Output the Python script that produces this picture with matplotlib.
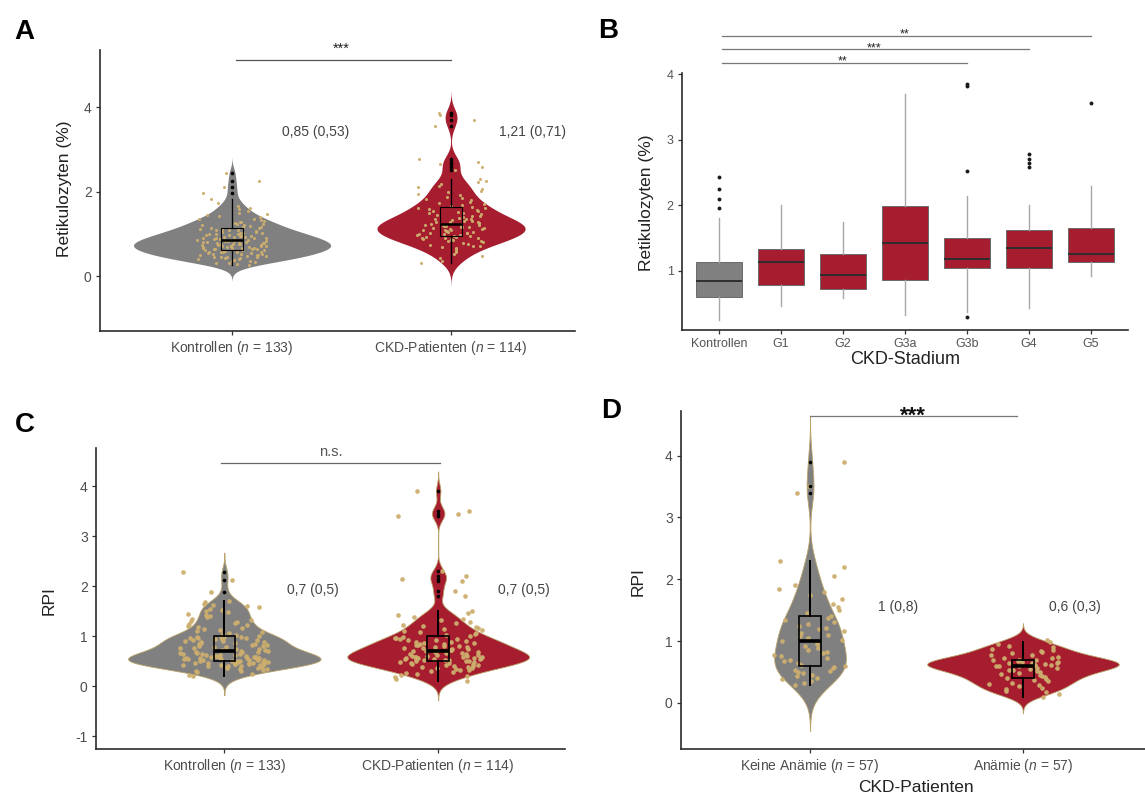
import numpy as np
import matplotlib
matplotlib.use("Agg")
import matplotlib.pyplot as plt

plt.rcParams['font.family'] = ['Liberation Sans', 'DejaVu Sans']
plt.rcParams['mathtext.fontset'] = 'custom'
plt.rcParams['mathtext.rm'] = 'Liberation Sans'
plt.rcParams['mathtext.it'] = 'Liberation Sans:italic'

# ---------------- data ----------------
# Panel A: Retikulozyten (%)
A_labels = ["Kontrollen ($n$ = 133)", "CKD-Patienten ($n$ = 114)"]
A_kontrollen = [0.26, 0.28, 0.30, 0.32, 0.34,
                0.35, 0.36, 0.37, 0.38, 0.40, 0.41, 0.42, 0.43, 0.44,
                0.45, 0.46, 0.46, 0.47, 0.48, 0.49, 0.50, 0.51, 0.52, 0.52, 0.53, 0.54,
                0.55, 0.56, 0.56, 0.57, 0.58, 0.58, 0.59, 0.60, 0.61, 0.61, 0.62, 0.63, 0.63, 0.64,
                0.65, 0.66, 0.66, 0.67, 0.67, 0.68, 0.69, 0.69, 0.70, 0.71, 0.71, 0.72, 0.72, 0.73,
                0.74, 0.74,
                0.75, 0.76, 0.76, 0.77, 0.78, 0.78, 0.79, 0.80, 0.80, 0.81, 0.82, 0.82, 0.83, 0.84,
                0.84,
                0.85, 0.86, 0.86, 0.87, 0.88, 0.89, 0.90, 0.90, 0.91, 0.92, 0.93, 0.93, 0.94,
                0.95, 0.96, 0.97, 0.98, 0.99, 1.00, 1.00, 1.01, 1.02, 1.03, 1.04,
                1.05, 1.06, 1.08, 1.09, 1.10, 1.11, 1.12, 1.13, 1.14,
                1.16, 1.17, 1.19, 1.20, 1.21, 1.23, 1.24,
                1.26, 1.28, 1.29, 1.31, 1.32, 1.34,
                1.36, 1.39, 1.41, 1.44,
                1.47, 1.50, 1.53, 1.58, 1.62, 1.67, 1.72, 1.82,
                1.96, 2.10, 2.25, 2.45]
A_ckd = [0.30, 0.36, 0.42, 0.47, 0.52, 0.56, 0.60, 0.63, 0.66, 0.68, 0.70, 0.72, 0.74, 0.76, 0.78,
         0.80, 0.82, 0.83, 0.85, 0.86, 0.87, 0.88, 0.89, 0.90, 0.91, 0.92, 0.93, 0.95,
         0.96, 0.97, 0.98, 0.99, 1.00, 1.01, 1.02, 1.03, 1.04, 1.05, 1.06, 1.07, 1.08, 1.09, 1.10,
         1.11, 1.12, 1.13, 1.14, 1.15, 1.16, 1.17, 1.18, 1.19, 1.20, 1.21, 1.22, 1.22, 1.23,
         1.24, 1.25, 1.26, 1.27, 1.28, 1.29, 1.30, 1.31, 1.32, 1.34, 1.35, 1.36, 1.38, 1.40, 1.41,
         1.43, 1.45, 1.47, 1.49, 1.50, 1.52, 1.54, 1.55, 1.57, 1.58, 1.60, 1.62, 1.63,
         1.65, 1.68, 1.70, 1.73, 1.76, 1.79, 1.82, 1.85, 1.88, 1.92, 1.95, 1.98, 2.02, 2.06, 2.10,
         2.14, 2.18, 2.22, 2.26, 2.30,
         2.52, 2.58, 2.65, 2.71, 2.78, 3.56, 3.70, 3.82, 3.85]
# box statistics: q1, median, q3, lower whisker, upper whisker
A_box_kontrollen = [0.62, 0.85, 1.14, 0.26, 1.82]
A_out_kontrollen = [1.96, 2.10, 2.25, 2.45]
A_box_ckd = [0.95, 1.23, 1.63, 0.30, 2.30]
A_out_ckd = [2.52, 2.58, 2.65, 2.71, 2.78, 3.56, 3.70, 3.82, 3.85]
A_annot = ["0,85 (0,53)", "1,21 (0,71)"]
A_sig = "***"

# Panel B: CKD-Stadium boxplots
B_groups = ["Kontrollen", "G1", "G2", "G3a", "G3b", "G4", "G5"]
B_q1 = [0.61, 0.79, 0.72, 0.86, 1.04, 1.05, 1.13]
B_med = [0.85, 1.14, 0.94, 1.43, 1.19, 1.35, 1.26]
B_q3 = [1.13, 1.34, 1.26, 1.99, 1.51, 1.62, 1.66]
B_lo = [0.25, 0.47, 0.59, 0.33, 0.38, 0.43, 0.92]
B_hi = [1.81, 2.01, 1.75, 3.70, 2.14, 2.01, 2.30]
B_out = [[1.96, 2.10, 2.25, 2.44], [], [], [], [0.30, 2.52, 3.82, 3.85],
         [2.58, 2.65, 2.71, 2.78], [3.56]]
B_sig_targets = ["G3b", "G4", "G5"]
B_sig_labels = ["**", "***", "**"]

# Panel C: RPI
C_labels = ["Kontrollen ($n$ = 133)", "CKD-Patienten ($n$ = 114)"]
C_kontrollen = [0.20, 0.22, 0.25, 0.28, 0.30, 0.31, 0.33, 0.34, 0.35, 0.36, 0.37, 0.38, 0.39, 0.40, 0.40,
                0.41, 0.42, 0.42, 0.43, 0.44, 0.44, 0.45, 0.45, 0.46, 0.46, 0.47, 0.47, 0.48, 0.48, 0.49,
                0.49, 0.50, 0.50,
                0.51, 0.51, 0.52, 0.52, 0.53, 0.53, 0.54, 0.54, 0.55, 0.55, 0.56, 0.56, 0.57, 0.57, 0.58,
                0.58, 0.59, 0.59, 0.60, 0.60, 0.61, 0.62, 0.62, 0.63, 0.64, 0.64, 0.65, 0.66, 0.67, 0.68,
                0.68, 0.69, 0.70,
                0.71, 0.72, 0.73, 0.74, 0.75, 0.76, 0.77, 0.78, 0.79, 0.80, 0.81, 0.82, 0.83, 0.84, 0.85,
                0.86, 0.87, 0.88, 0.89, 0.90, 0.91, 0.92, 0.93, 0.94, 0.95, 0.96, 0.96, 0.97, 0.98, 0.98,
                0.99, 0.99, 1.00,
                1.02, 1.04, 1.06, 1.08, 1.10, 1.12, 1.14, 1.16, 1.18, 1.20, 1.22, 1.24, 1.26, 1.28, 1.30,
                1.32, 1.35, 1.38, 1.40, 1.42, 1.45, 1.48, 1.50, 1.52, 1.55, 1.58, 1.60, 1.62, 1.65, 1.68,
                1.70,
                1.88, 2.12, 2.28]
C_ckd = [0.10, 0.15, 0.18, 0.20, 0.22, 0.25, 0.27, 0.29, 0.30, 0.32, 0.33, 0.35, 0.36, 0.37, 0.38,
         0.39, 0.40, 0.41, 0.42, 0.43, 0.44, 0.45, 0.46, 0.47, 0.48, 0.49, 0.50, 0.50,
         0.51, 0.52, 0.52, 0.53, 0.54, 0.54, 0.55, 0.55, 0.56, 0.56, 0.57, 0.57, 0.58, 0.58, 0.59,
         0.59, 0.60, 0.60, 0.61, 0.62, 0.63, 0.64, 0.65, 0.66, 0.67, 0.68, 0.69, 0.70, 0.70,
         0.71, 0.72, 0.73, 0.74, 0.75, 0.76, 0.77, 0.78, 0.79, 0.80, 0.81, 0.82, 0.83, 0.84, 0.85,
         0.86, 0.87, 0.88, 0.89, 0.90, 0.92, 0.93, 0.94, 0.95, 0.96, 0.97, 0.99, 1.00,
         1.02, 1.04, 1.06, 1.08, 1.10, 1.12, 1.14, 1.16, 1.18, 1.20, 1.23, 1.26, 1.29, 1.32, 1.35,
         1.38, 1.42, 1.46, 1.50,
         1.80, 1.90, 2.10, 2.15, 2.20, 2.30, 3.40, 3.45, 3.50, 3.90]
C_box_kontrollen = [0.50, 0.70, 1.00, 0.20, 1.70]
C_out_kontrollen = [1.88, 2.12, 2.28]
C_box_ckd = [0.50, 0.70, 1.00, 0.10, 1.50]
C_out_ckd = [1.80, 1.90, 2.10, 2.15, 2.20, 2.30, 3.40, 3.45, 3.50, 3.90]
C_annot = ["0,7 (0,5)", "0,7 (0,5)"]
C_sig = "n.s."

# Panel D: RPI in CKD patients by anaemia
D_labels = ["Keine Anämie ($n$ = 57)", "Anämie ($n$ = 57)"]
D_keine = [0.29, 0.32, 0.35, 0.38, 0.40, 0.43, 0.45, 0.48, 0.50, 0.52, 0.54, 0.56, 0.58, 0.60,
           0.62, 0.65, 0.68, 0.70, 0.73, 0.76, 0.78, 0.80, 0.83, 0.86, 0.89, 0.92, 0.96, 1.00,
           1.02, 1.05, 1.08, 1.10, 1.13, 1.16, 1.19, 1.22, 1.25, 1.28, 1.31, 1.34, 1.37, 1.40,
           1.45, 1.50, 1.55, 1.60, 1.68, 1.75, 1.80, 1.85, 1.90, 2.05, 2.20, 2.29,
           3.40, 3.50, 3.90]
D_anaemie = [0.10, 0.15, 0.18, 0.20, 0.22, 0.25, 0.27, 0.29, 0.31, 0.33, 0.35, 0.37, 0.39, 0.40,
             0.42, 0.44, 0.45, 0.47, 0.48, 0.50, 0.51, 0.53, 0.54, 0.55, 0.56, 0.57, 0.59, 0.60,
             0.60, 0.61, 0.62, 0.62, 0.63, 0.64, 0.64, 0.65, 0.66, 0.67, 0.68, 0.69, 0.70, 0.70,
             0.72, 0.73, 0.75, 0.77, 0.78, 0.80, 0.82, 0.84, 0.86, 0.88, 0.90, 0.92, 0.95, 0.99, 1.02]
D_box_keine = [0.60, 1.00, 1.40, 0.29, 2.29]
D_out_keine = [3.40, 3.50, 3.90]
D_box_anaemie = [0.40, 0.60, 0.70, 0.10, 0.99]
D_out_anaemie = []
D_annot = ["1 (0,8)", "0,6 (0,3)"]
D_sig = "***"

# ---------------- style ----------------
GREY = '#808080'
RED = '#a51d2e'
TAN = '#cdae6e'
TICKC = '#4d4d4d'
W, H = 1145, 799

fig = plt.figure(figsize=(W / 100, H / 100), dpi=100)


def px_axes(l, r, t, b):
    return fig.add_axes([l / W, 1 - b / H, (r - l) / W, (b - t) / H])


def style(ax, fs=10, color=TICKC):
    for s in ['top', 'right']:
        ax.spines[s].set_visible(False)
    for s in ['left', 'bottom']:
        ax.spines[s].set_color('#2b2b2b')
        ax.spines[s].set_linewidth(1.2)
    ax.tick_params(length=3, width=0.9, color='#333333', labelcolor=color,
                   labelsize=fs, pad=3)


def kde(vals, n=512):
    v = np.asarray(vals, float)
    sd = v.std(ddof=1)
    q75, q25 = np.percentile(v, [75, 25])
    bw = 0.9 * min(sd, (q75 - q25) / 1.34) * len(v) ** -0.2
    grid = np.linspace(v.min() - 3 * bw, v.max() + 3 * bw, n)
    d = np.exp(-0.5 * ((grid[:, None] - v[None, :]) / bw) ** 2).sum(1) / (len(v) * bw * np.sqrt(2 * np.pi))
    return grid, d


def jitter(n, w, seed=0.0):
    # deterministic horizontal spread of the points (position only)
    idx = np.arange(n) + 1.0
    frac = (np.sin(idx * 12.9898 + seed * 78.233) * 43758.5453) % 1.0
    return (frac - 0.5) * 2 * w


def violin_panel(ax, groups, colors, boxes, outs, jw, psize, box_lw, med_lw, edge=None, seed=0):
    dens = [kde(g) for g in groups]
    dmax = max(d.max() for _, d in dens)
    for i, ((grid, d), col) in enumerate(zip(dens, colors)):
        pos = i + 1
        w = d / dmax * 0.45
        ax.fill_betweenx(grid, pos - w, pos + w, facecolor=col,
                         edgecolor=edge if edge else col, linewidth=0.6 if edge else 0, zorder=1)
    for i, g in enumerate(groups):
        pos = i + 1
        v = np.asarray(g)
        ax.scatter(pos + jitter(len(v), jw, seed + i), v, s=psize, color=TAN, linewidths=0,
                   alpha=0.95, zorder=2)
    for i, (b, o) in enumerate(zip(boxes, outs)):
        st = dict(q1=b[0], med=b[1], q3=b[2], whislo=b[3], whishi=b[4], fliers=o)
        ax.bxp([st], positions=[i + 1], widths=0.1, showcaps=False, patch_artist=True,
               boxprops=dict(facecolor='none', edgecolor='black', linewidth=box_lw),
               whiskerprops=dict(color='black', linewidth=box_lw * 1.2),
               medianprops=dict(color='black', linewidth=med_lw),
               flierprops=dict(marker='o', markersize=2.6, markerfacecolor='black',
                               markeredgecolor='black', markeredgewidth=0),
               zorder=3)


# ---------------- Panel A ----------------
axA = px_axes(100, 575, 50, 331)
style(axA)
violin_panel(axA, [A_kontrollen, A_ckd], [GREY, RED],
             [A_box_kontrollen, A_box_ckd], [A_out_kontrollen, A_out_ckd],
             jw=0.16, psize=5, box_lw=0.8, med_lw=1.8, seed=1)
axA.set_xlim(0.397, 2.566)
axA.set_ylim(-1.30, 5.35)
axA.set_yticks([0, 2, 4])
axA.set_xticks([1, 2])
axA.set_xticklabels(A_labels)
axA.plot([1.02, 2.0], [5.11, 5.11], color='#555555', lw=0.9, clip_on=False)
axA.text(1.5, 5.28, A_sig, ha='center', va='baseline', fontsize=10.5, color='#222222', clip_on=False)
axA.text(1.38, 3.41, A_annot[0], ha='center', va='center', fontsize=10, color='#444444')
axA.text(2.37, 3.41, A_annot[1], ha='center', va='center', fontsize=10, color='#444444')
fig.text(64 / W, 1 - 189 / H, "Retikulozyten (%)", rotation=90, ha='center', va='center',
         fontsize=12.5, color='#222222')

# ---------------- Panel B ----------------
axB = px_axes(682, 1128, 73, 330)
style(axB, fs=9, color='#555555')
stats = []
for q1, md, q3, lo, hi, o in zip(B_q1, B_med, B_q3, B_lo, B_hi, B_out):
    stats.append(dict(q1=q1, med=md, q3=q3, whislo=lo, whishi=hi, fliers=o))
bp = axB.bxp(stats, positions=np.arange(1, len(B_groups) + 1), widths=0.75, showcaps=False,
             patch_artist=True,
             boxprops=dict(edgecolor='#6a6a6a', linewidth=0.7),
             whiskerprops=dict(color='#a8a8a8', linewidth=1.0),
             medianprops=dict(color='#2e2e2e', linewidth=1.4),
             flierprops=dict(marker='o', markersize=2.8, markerfacecolor='#1a1a1a',
                             markeredgecolor='#1a1a1a', markeredgewidth=0))
for i, patch in enumerate(bp['boxes']):
    patch.set_facecolor(GREY if i == 0 else RED)
axB.set_xlim(0.4, 7.6)
axB.set_ylim(0.10, 4.02)
axB.set_yticks([1, 2, 3, 4])
axB.set_xticks(np.arange(1, len(B_groups) + 1))
axB.set_xticklabels(B_groups)
sig_y = [4.18, 4.38, 4.59]
for tgt, lab, yy in zip(B_sig_targets, B_sig_labels, sig_y):
    xe = B_groups.index(tgt) + 1
    axB.plot([1.05, xe], [yy, yy], color='#777777', lw=0.9, clip_on=False)
    axB.text((1 + xe) / 2, yy - 0.03, lab, ha='center', va='baseline', fontsize=9,
             color='#222222', clip_on=False)
fig.text(646 / W, 1 - 203 / H, "Retikulozyten (%)", rotation=90, ha='center', va='center',
         fontsize=12.5, color='#222222')
fig.text(905 / W, 1 - 360 / H, "CKD-Stadium", ha='center', va='center', fontsize=13, color='#222222')

# ---------------- Panel C ----------------
axC = px_axes(96, 565, 448, 749)
style(axC)
violin_panel(axC, [C_kontrollen, C_ckd], [GREY, RED],
             [C_box_kontrollen, C_box_ckd], [C_out_kontrollen, C_out_ckd],
             jw=0.21, psize=11, box_lw=1.2, med_lw=2.6, edge='#b9a36a', seed=5)
axC.set_xlim(0.40, 2.593)
axC.set_ylim(-1.26, 4.76)
axC.set_yticks([-1, 0, 1, 2, 3, 4])
axC.set_yticklabels(['-1', '0', '1', '2', '3', '4'])
axC.set_xticks([1, 2])
axC.set_xticklabels(C_labels)
axC.plot([0.986, 2.007], [4.46, 4.46], color='#666666', lw=0.9, clip_on=False)
axC.text(1.5, 4.60, C_sig, ha='center', va='baseline', fontsize=10.5, color='#555555', clip_on=False)
axC.text(1.416, 1.92, C_annot[0], ha='center', va='center', fontsize=10, color='#444444')
axC.text(2.40, 1.92, C_annot[1], ha='center', va='center', fontsize=10, color='#444444')
fig.text(49 / W, 1 - 601 / H, "RPI", rotation=90, ha='center', va='center',
         fontsize=12.5, color='#222222')

# ---------------- Panel D ----------------
axD = px_axes(681, 1145, 411, 749)
style(axD)
violin_panel(axD, [D_keine, D_anaemie], [GREY, RED],
             [D_box_keine, D_box_anaemie], [D_out_keine, D_out_anaemie],
             jw=0.17, psize=11, box_lw=1.2, med_lw=2.6, edge='#b9a36a', seed=9)
axD.set_xlim(0.394, 2.573)
axD.set_ylim(-0.744, 4.72)
axD.set_yticks([0, 1, 2, 3, 4])
axD.set_xticks([1, 2])
axD.set_xticklabels(D_labels)
axD.plot([1.0, 1.97], [4.64, 4.64], color='#777777', lw=0.9, clip_on=False)
axD.text(1.485, 4.55, D_sig, ha='center', va='baseline', fontsize=16, fontweight='bold',
         color='#111111', clip_on=False)
axD.text(1.413, 1.55, D_annot[0], ha='center', va='center', fontsize=10, color='#444444')
axD.text(2.244, 1.55, D_annot[1], ha='center', va='center', fontsize=10, color='#444444')
fig.text(638 / W, 1 - 582 / H, "RPI", rotation=90, ha='center', va='center',
         fontsize=12.5, color='#222222')
fig.text(916 / W, 1 - 788 / H, "CKD-Patienten", ha='center', va='center', fontsize=12.5,
         color='#222222')

# ---------------- panel letters ----------------
for lab, x, y in [("A", 24, 32), ("B", 608, 31), ("C", 25, 425), ("D", 611, 411)]:
    fig.text(x / W, 1 - y / H, lab, ha='center', va='center', fontsize=20, fontweight='bold',
             color='black')

fig.savefig("out.png", dpi=100)
